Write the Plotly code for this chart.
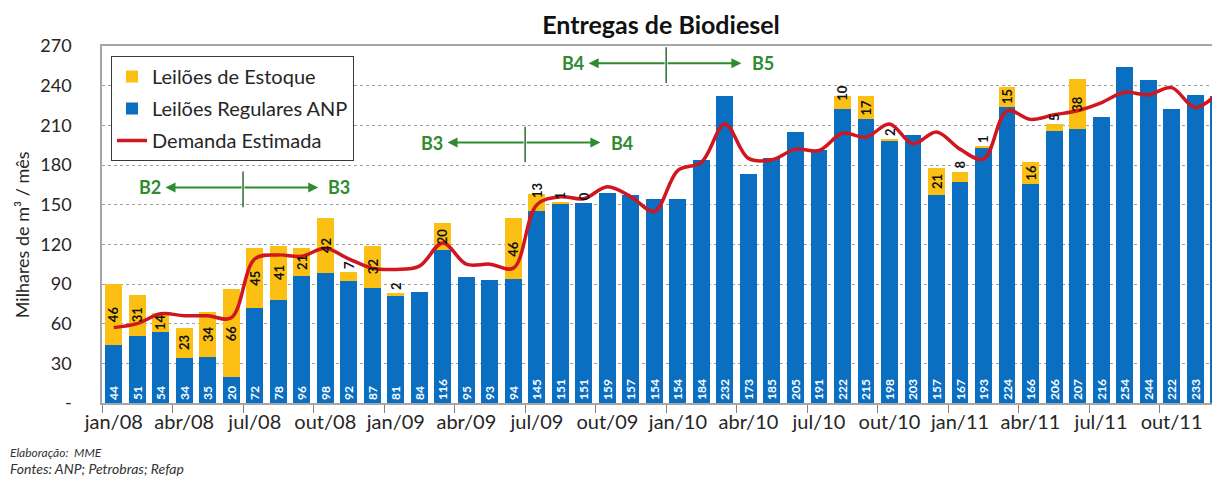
import plotly.graph_objects as go

months = ["jan/08", "fev/08", "mar/08", "abr/08", "mai/08", "jun/08", "jul/08", "ago/08", "set/08", "out/08", "nov/08", "dez/08",
          "jan/09", "fev/09", "mar/09", "abr/09", "mai/09", "jun/09", "jul/09", "ago/09", "set/09", "out/09", "nov/09", "dez/09",
          "jan/10", "fev/10", "mar/10", "abr/10", "mai/10", "jun/10", "jul/10", "ago/10", "set/10", "out/10", "nov/10", "dez/10",
          "jan/11", "fev/11", "mar/11", "abr/11", "mai/11", "jun/11", "jul/11", "ago/11", "set/11", "out/11", "nov/11", "dez/11"]

regulares = [44, 51, 54, 34, 35, 20, 72, 78, 96, 98, 92, 87,
             81, 84, 116, 95, 93, 94, 145, 151, 151, 159, 157, 154,
             154, 184, 232, 173, 185, 205, 191, 222, 215, 198, 203, 157,
             167, 193, 224, 166, 206, 207, 216, 254, 244, 222, 233, 232]

estoque = [46, 31, 14, 23, 34, 66, 45, 41, 21, 42, 7, 32,
           2, None, 20, None, None, 46, 13, 1, 0, None, None, None,
           None, None, None, None, None, None, None, 10, 17, 2, None, 21,
           8, 1, 15, 16, 5, 38, None, None, None, None, None, None]

demanda = [57, 60, 67.5, 66, 66, 64.5, 109, 112, 111, 117, 109, 102,
           101, 103.5, 121, 105, 105, 102, 150, 156, 154.5, 163.5, 156, 145,
           176, 182, 211, 185, 184, 192, 191, 204, 201, 211, 196, 205,
           192, 184.5, 221, 214.5, 218, 221, 227, 235, 233, 238.5, 223.5, 235]

y_ticks = [0, 30, 60, 90, 120, 150, 180, 210, 240, 270]
y_ticktext = ["-", "30", "60", "90", "120", "150", "180", "210", "240", "270"]

# phase markers: (left label, right label, boundary index, y level)
fases = [("B2", "B3", 5.5, 163), ("B3", "B4", 17.5, 197), ("B4", "B5", 23.5, 257)]

FONT = "Lato"
BLUE = "#0B6FC1"
YELLOW = "#FBC013"
RED = "#D0161E"
GREEN = "#2E8B30"

# the page adds an 8px body margin; the figure is sized so that it fills the 1220x480 window
W, H = 1212, 472
ML, MT, MB = 94, 38, 77
PH = H - MT - MB
PW = W - ML

fig = go.Figure()

fig.add_trace(go.Bar(
    x=months, y=regulares, name="Leilões Regulares ANP",
    marker=dict(color=BLUE, line=dict(width=0)),
    text=[str(v) for v in regulares], textposition="inside",
    insidetextanchor="start", textangle=-90,
    textfont=dict(color="white", size=12, family=FONT, weight="bold"),
    legendrank=2, legendgroup="b", hoverinfo="skip",
))

fig.add_trace(go.Bar(
    x=months, y=[v if v is not None else 0 for v in estoque], name="Leilões de Estoque",
    marker=dict(color=YELLOW, line=dict(width=0)),
    legendrank=1, legendgroup="a", hoverinfo="skip",
))

fig.add_trace(go.Scatter(
    x=months, y=demanda, name="Demanda Estimada", mode="lines",
    line=dict(color=RED, width=3.5, shape="spline", smoothing=1.0),
    legendrank=3, legendgroup="c", hoverinfo="skip",
))

annotations = []
# stock auction labels
for i, (b, e) in enumerate(zip(regulares, estoque)):
    if e is None:
        continue
    if e >= 14:
        annotations.append(dict(x=i, y=b + e / 2, xref="x", yref="y", text=str(e),
                                textangle=-90, showarrow=False, yanchor="middle",
                                font=dict(family=FONT, size=13, color="#111", weight="bold")))
    elif e >= 10:
        annotations.append(dict(x=i, y=b + e, xref="x", yref="y", text=str(e),
                                textangle=-90, showarrow=False, yanchor="middle", yshift=4,
                                font=dict(family=FONT, size=13, color="#111", weight="bold")))
    else:
        annotations.append(dict(x=i, y=b + e, xref="x", yref="y", text=str(e),
                                textangle=-90, showarrow=False, yanchor="bottom", yshift=1,
                                font=dict(family=FONT, size=13, color="#111", weight="bold")))

shapes = []
for left, right, xb, yl in fases:
    annotations.append(dict(x=xb - 3.3, y=yl, ax=xb, ay=yl, xref="x", yref="y", axref="x", ayref="y",
                            text="", showarrow=True, arrowhead=2, arrowsize=1, arrowwidth=2,
                            arrowcolor=GREEN, standoff=0, startstandoff=0))
    annotations.append(dict(x=xb + 3.2, y=yl, ax=xb, ay=yl, xref="x", yref="y", axref="x", ayref="y",
                            text="", showarrow=True, arrowhead=2, arrowsize=1, arrowwidth=2,
                            arrowcolor=GREEN, standoff=0, startstandoff=0))
    annotations.append(dict(x=xb - 3.95, y=yl, xref="x", yref="y", text="<b>%s</b>" % left,
                            showarrow=False, font=dict(family=FONT, size=18, color=GREEN)))
    annotations.append(dict(x=xb + 4.1, y=yl, xref="x", yref="y", text="<b>%s</b>" % right,
                            showarrow=False, font=dict(family=FONT, size=18, color=GREEN)))
    shapes.append(dict(type="line", xref="x", yref="y", x0=xb, x1=xb, y0=yl - 15, y1=yl + 12,
                       line=dict(color="#2F6B2F", width=1.5)))

annotations.append(dict(x=(14 - ML) / PW, y=0.47, xref="paper", yref="paper", text="Milhares de m³ / mês",
                        textangle=-90, showarrow=False, xanchor="center", yanchor="middle",
                        font=dict(family=FONT, size=18, color="#262626")))
annotations.append(dict(x=-ML / PW, y=-49 / PH, xref="paper", yref="paper", text="<i>Elaboração:  MME</i>",
                        showarrow=False, xanchor="left", yanchor="middle",
                        font=dict(family=FONT, size=12, color="#333")))
annotations.append(dict(x=-ML / PW, y=-65 / PH, xref="paper", yref="paper", text="<i>Fontes: ANP; Petrobras; Refap</i>",
                        showarrow=False, xanchor="left", yanchor="middle",
                        font=dict(family=FONT, size=14, color="#333")))

fig.update_layout(
    width=W, height=H,
    margin=dict(l=ML, r=0, t=MT, b=MB, pad=0, autoexpand=False),
    paper_bgcolor="white", plot_bgcolor="white",
    barmode="stack", bargap=0.28,
    uniformtext=dict(minsize=12, mode="show"),
    font=dict(family=FONT, color="#262626"),
    title=dict(text="<b>Entregas de Biodiesel</b>", x=0.5, xref="paper", xanchor="center",
               y=1 - 17 / H, yref="container", yanchor="middle",
               font=dict(family=FONT, size=25, color="#111")),
    legend=dict(x=(9 / PW), y=1 - 10 / PH, xanchor="left", yanchor="top",
                bgcolor="white", bordercolor="#3a3a3a", borderwidth=1,
                font=dict(family=FONT, size=20, color="#262626"),
                traceorder="grouped", tracegroupgap=3),
    annotations=annotations, shapes=shapes,
)

fig.update_yaxes(range=[0, 270], tickmode="array", tickvals=y_ticks, ticktext=y_ticktext,
                 showgrid=True, gridcolor="#A0A0A0", griddash="dot", gridwidth=1,
                 showline=True, linecolor="#A6A6A6", linewidth=1.5, zeroline=False,
                 ticks="", ticklabelstandoff=25, tickfont=dict(size=18, color="#262626"))

fig.update_xaxes(type="category", range=[-0.5, 47.06], tickmode="linear", tick0=0, dtick=3,
                 tickson="boundaries", ticks="outside", ticklen=8, tickcolor="#808080",
                 tickangle=0, automargin=False,
                 showline=True, linecolor="#A6A6A6", linewidth=1.5, mirror=True,
                 showgrid=False, tickfont=dict(size=20, color="#262626"))

fig.write_html("out.html")
